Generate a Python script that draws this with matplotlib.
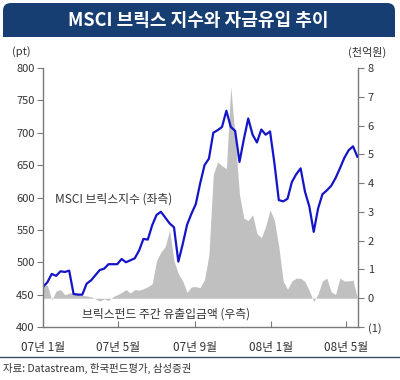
import matplotlib
matplotlib.use("Agg")
import matplotlib.pyplot as plt
from matplotlib.patches import FancyBboxPatch
import pandas as pd

plt.rcParams['font.family'] = ['Noto Sans CJK KR', 'DejaVu Sans']

# ---- data (weekly, from 2007-01-01) ----
dates = pd.date_range("2007-01-01", periods=73, freq="7D")
msci_bric = [462, 469, 482, 479, 486, 485, 487, 451, 450, 450,
             467, 472, 480, 488, 490, 497, 497, 497, 505, 500,
             503, 506, 518, 536, 535, 557, 573, 578, 569, 560,
             554, 501, 528, 558, 575, 590, 622, 650, 660, 700,
             704, 709, 734, 709, 703, 655, 690, 722, 697, 685,
             705, 697, 702, 653, 596, 594, 598, 624, 636, 645,
             609, 586, 547, 583, 605, 611, 618, 630, 645, 661,
             673, 679, 663]
fund_flow = [0.45, 0.45, -0.06, 0.25, 0.30, 0.12, 0.18, 0.20, 0.18, 0.10,
             0.08, 0.05, -0.02, -0.10, -0.02, -0.08, 0.05, 0.12, 0.20, 0.30,
             0.18, 0.30, 0.28, 0.33, 0.40, 0.50, 1.30, 1.60, 1.80, 2.37,
             1.30, 0.85, 0.60, 0.20, 0.40, 0.40, 0.37, 0.65, 1.50, 4.30,
             4.74, 4.60, 4.50, 7.35, 5.60, 3.60, 2.78, 2.70, 2.90, 2.25,
             2.10, 2.50, 3.07, 2.70, 1.80, 0.60, 0.31, 0.60, 0.70, 0.69,
             0.58, 0.25, -0.12, 0.15, 0.60, 0.70, 0.22, 0.13, 0.70, 0.60,
             0.60, 0.63, 0.00]

left_ticks = [400, 450, 500, 550, 600, 650, 700, 750, 800]
right_ticks = [-1, 0, 1, 2, 3, 4, 5, 6, 7, 8]
right_labels = ["(1)", "0", "1", "2", "3", "4", "5", "6", "7", "8"]
x_tick_dates = pd.to_datetime(["2007-01-01", "2007-05-01", "2007-09-01",
                               "2008-01-01", "2008-05-01"])
x_tick_labels = ["07년 1월", "07년 5월", "07년 9월", "08년 1월", "08년 5월"]

title = "MSCI 브릭스 지수와 자금유입 추이"
source = "자료: Datastream, 한국펀드평가, 삼성증권"

W, H = 400, 380
fig = plt.figure(figsize=(W / 100, H / 100), dpi=100)
txt_c = "#333333"

# title banner
navy = "#173e72"
banner = FancyBboxPatch((3 / W, 1 - 37 / H), 392 / W, 34 / H,
                        boxstyle="round,pad=0,rounding_size=0.02",
                        transform=fig.transFigure, facecolor=navy,
                        edgecolor="none", zorder=0)
fig.patches.append(banner)
fig.patches.append(plt.Rectangle((3 / W, 1 - 37 / H), 392 / W, 14 / H,
                                 transform=fig.transFigure, facecolor=navy,
                                 edgecolor="none", zorder=0))
fig.text(0.495, 1 - 20 / H, title, color="white", fontsize=13,
         fontweight="bold", ha="center", va="center")

ax = fig.add_axes([43 / W, 1 - 327 / H, 315 / W, 259 / H])
ax2 = ax.twinx()

spine_c = "#7a7a7a"
ax2.fill_between(dates, fund_flow, 0, color="#c0c0c0", linewidth=0)
ax2.set_ylim(-1, 8)
ax2.set_yticks(right_ticks)
ax2.set_yticklabels(right_labels)

ax.plot(dates, msci_bric, color="#1414c8", linewidth=1.6)
ax.set_ylim(400, 800)
ax.set_yticks(left_ticks)
ax.set_xlim(pd.Timestamp("2007-01-01"), pd.Timestamp("2008-05-20"))
ax.set_xticks(x_tick_dates)
ax.set_xticklabels(x_tick_labels)

ax.set_zorder(ax2.get_zorder() + 1)
ax.patch.set_visible(False)

for a in (ax, ax2):
    a.spines["top"].set_visible(False)
    for s in ("left", "right", "bottom"):
        a.spines[s].set_color(spine_c)
        a.spines[s].set_linewidth(1.0)
ax.spines["right"].set_visible(False)
ax2.spines["left"].set_visible(False)
ax2.spines["bottom"].set_visible(False)

ax.tick_params(axis="y", direction="out", length=4, color=spine_c,
               labelsize=8, labelcolor=txt_c, pad=2)
ax.tick_params(axis="x", direction="in", length=4, color=spine_c,
               labelsize=8.5, labelcolor=txt_c, pad=10)
ax2.tick_params(axis="y", direction="out", length=4, color=spine_c,
                labelsize=8, labelcolor=txt_c, pad=3)

fig.text(12 / W, 1 - 52 / H, "(pt)", fontsize=8, color=txt_c,
         ha="left", va="center")
fig.text(386 / W, 1 - 52 / H, "(천억원)", fontsize=8, color=txt_c,
         ha="right", va="center")

ax.text(pd.Timestamp("2007-01-20"), 597, "MSCI 브릭스지수 (좌측)", fontsize=8.5,
        color=txt_c, ha="left", va="center")
ax2.text(pd.Timestamp("2007-03-05"), -0.55, "브릭스펀드 주간 유출입금액 (우측)",
         fontsize=8.5, color=txt_c, ha="left", va="center")

# footer line and source
fig.add_artist(plt.Line2D([0, 1], [1 - 357 / H, 1 - 357 / H],
                          transform=fig.transFigure, color="#3d4a5c",
                          linewidth=1.0))
fig.text(3 / W, 1 - 368 / H, source, fontsize=7.5, color=txt_c,
         ha="left", va="center")

fig.savefig("out.png", dpi=100)
